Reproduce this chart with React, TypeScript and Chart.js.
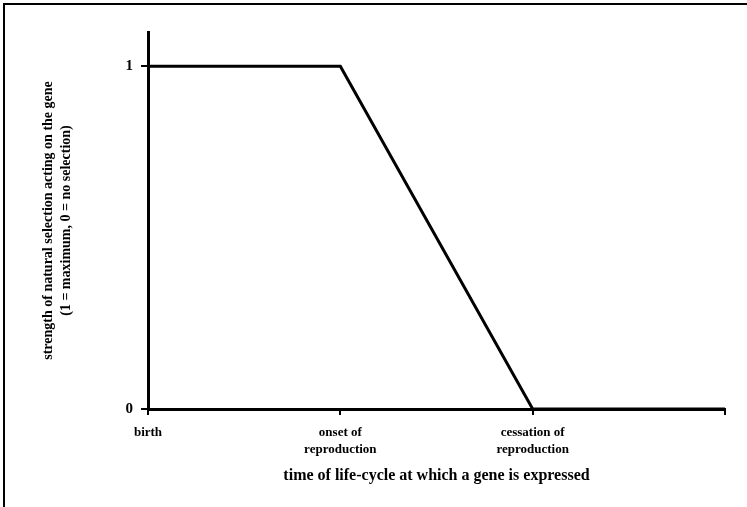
import React, { useEffect, useRef } from "react";
import { Chart, registerables } from "chart.js";

Chart.register(...registerables);

const stageLabels: (string | string[])[] = [
  "birth",
  ["onset of", "reproduction"],
  ["cessation of", "reproduction"],
  "",
];
const stageX = [0, 1, 2, 3];
const selectionStrength = [1, 1, 0, 0];
const yTickValues = [0, 1];
const xTitle = "time of life-cycle at which a gene is expressed";
const yTitle = [
  "strength of natural selection acting on the gene",
  "(1 = maximum, 0 = no selection)",
];

const FONT = "'Liberation Serif', 'Times New Roman', serif";

export default function App() {
  const ref = useRef<HTMLCanvasElement | null>(null);

  useEffect(() => {
    if (!ref.current) return;
    const chart = new Chart(ref.current, {
      type: "line",
      data: {
        datasets: [
          {
            data: stageX.map((x, i) => ({ x, y: selectionStrength[i] })),
            borderColor: "#000",
            borderWidth: 3,
            pointRadius: 0,
            tension: 0,
            fill: false,
          },
        ],
      },
      options: {
        animation: false,
        responsive: false,
        devicePixelRatio: 1,
        layout: { padding: { left: 0, right: 22, top: 32, bottom: 0 } },
        plugins: {
          legend: { display: false },
          tooltip: { enabled: false },
        },
        scales: {
          x: {
            type: "linear",
            min: 0,
            max: 3,
            afterBuildTicks: (s: any) => {
              s.ticks = stageX.map((v) => ({ value: v }));
            },
            afterFit: (s: any) => {
              s.height = 98;
            },
            ticks: {
              autoSkip: false,
              maxRotation: 0,
              padding: 9,
              color: "#000",
              font: { family: FONT, size: 13, weight: "bold", lineHeight: 1.3 },
              callback: (v: any) => {
                const i = stageX.indexOf(Number(v));
                return i >= 0 ? stageLabels[i] : "";
              },
            },
            grid: {
              drawOnChartArea: false,
              drawTicks: true,
              tickLength: 6,
              color: "#000",
              lineWidth: 2,
            },
            border: { display: true, color: "#000", width: 3 },
            title: {
              display: true,
              text: xTitle,
              color: "#000",
              font: { family: FONT, size: 16, weight: "bold", lineHeight: 1.2 },
              padding: { top: 0, bottom: 22 },
            },
          },
          y: {
            type: "linear",
            min: 0,
            max: 1.1,
            afterBuildTicks: (s: any) => {
              s.ticks = yTickValues.map((v) => ({ value: v }));
            },
            afterFit: (s: any) => {
              s.width = 148;
            },
            ticks: {
              padding: 8,
              color: "#000",
              font: { family: FONT, size: 15, weight: "bold" },
              callback: (v: any) => String(v),
            },
            grid: {
              drawOnChartArea: false,
              drawTicks: true,
              tickLength: 7,
              color: "#000",
              lineWidth: 2,
            },
            border: { display: true, color: "#000", width: 3 },
            title: {
              display: true,
              text: yTitle,
              color: "#000",
              font: { family: FONT, size: 14, weight: "bold", lineHeight: 1.3 },
              padding: { top: 39, bottom: 0 },
            },
          },
        },
      },
    } as any);
    return () => chart.destroy();
  }, []);

  return (
    <div
      style={{
        position: "absolute",
        left: 0,
        top: 0,
        width: 747,
        height: 507,
        background: "#fff",
        overflow: "hidden",
      }}
    >
      <div
        style={{
          position: "absolute",
          left: 3,
          top: 3,
          width: 760,
          height: 520,
          borderLeft: "2px solid #000",
          borderTop: "2px solid #000",
        }}
      />
      <canvas
        ref={ref}
        width={747}
        height={507}
        style={{ position: "absolute", left: 0, top: 0, width: 747, height: 507 }}
      />
    </div>
  );
}
